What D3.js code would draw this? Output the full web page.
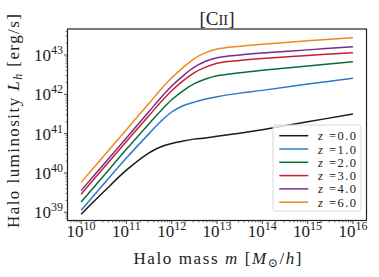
<!DOCTYPE html>
<html>
<head>
<meta charset="utf-8">
<script src="https://cdn.jsdelivr.net/npm/d3@7"></script>
<style>
  body { margin: 0; background: #fff; }
  svg text { font-family: "Liberation Serif", "DejaVu Serif", serif; fill: #222; }
</style>
</head>
<body>
<svg id="chart" width="379" height="277"></svg>
<script>
// log10 of halo mass where values were read
const logMass = [10, 10.5, 11, 11.5, 11.75, 12, 12.25, 12.5, 12.75, 13, 13.5, 14, 15, 16];

// log10 of halo luminosity, one array per redshift
const lumZ0 = [38.95, 39.52, 40.07, 40.51, 40.66, 40.75, 40.81, 40.86, 40.89, 40.93, 41.01, 41.10, 41.30, 41.50];
const lumZ1 = [39.05, 39.72, 40.38, 41.00, 41.30, 41.55, 41.71, 41.80, 41.88, 41.94, 42.03, 42.10, 42.26, 42.41];
const lumZ2 = [39.26, 39.93, 40.60, 41.25, 41.57, 41.86, 42.09, 42.27, 42.39, 42.47, 42.55, 42.61, 42.72, 42.83];
const lumZ3 = [39.46, 40.13, 40.80, 41.46, 41.79, 42.09, 42.34, 42.55, 42.69, 42.79, 42.86, 42.91, 42.99, 43.06];
const lumZ4 = [39.55, 40.22, 40.89, 41.56, 41.90, 42.21, 42.47, 42.69, 42.84, 42.93, 43.00, 43.05, 43.13, 43.21];
const lumZ6 = [39.76, 40.43, 41.10, 41.77, 42.11, 42.42, 42.68, 42.91, 43.06, 43.15, 43.22, 43.27, 43.36, 43.44];

const redshifts = ['0.0', '1.0', '2.0', '3.0', '4.0', '6.0'];
const colors = ['#1a1a1a', '#2f78c4', '#0d6b3a', '#c81e34', '#7a2b8d', '#ee8a1c'];

const xTickExp = [10, 11, 12, 13, 14, 15, 16];
const yTickExp = [39, 40, 41, 42, 43];

const series = [lumZ0, lumZ1, lumZ2, lumZ3, lumZ4, lumZ6].map((arr, i) => ({
  label: redshifts[i],
  color: colors[i],
  values: arr.map((v, j) => ({ m: Math.pow(10, logMass[j]), L: Math.pow(10, v) }))
}));

const svg = d3.select('#chart');

// plot area
const pLeft = 67.5, pRight = 366.5, pTop = 29, pBottom = 220.5;

const x = d3.scaleLog().domain([Math.pow(10, 9.7), Math.pow(10, 16.3)]).range([pLeft, pRight]);
const y = d3.scaleLog().domain([Math.pow(10, 38.79), Math.pow(10, 43.661)]).range([pBottom, pTop]);

// minor ticks
const minorX = [];
for (let e = 9; e <= 16; e++) for (let k = 2; k <= 9; k++) {
  const v = k * Math.pow(10, e);
  if (v >= x.domain()[0] && v <= x.domain()[1]) minorX.push(v);
}
const minorY = [];
for (let e = 38; e <= 43; e++) for (let k = 2; k <= 9; k++) {
  const v = k * Math.pow(10, e);
  if (v >= y.domain()[0] && v <= y.domain()[1]) minorY.push(v);
}

svg.selectAll('.minor-x').data(minorX).join('line')
  .attr('class', 'minor-x')
  .attr('x1', d => x(d)).attr('x2', d => x(d))
  .attr('y1', pBottom).attr('y2', pBottom + 2)
  .attr('stroke', '#222').attr('stroke-width', 0.6);
svg.selectAll('.major-x').data(xTickExp).join('line')
  .attr('class', 'major-x')
  .attr('x1', d => x(Math.pow(10, d))).attr('x2', d => x(Math.pow(10, d)))
  .attr('y1', pBottom).attr('y2', pBottom + 3.5)
  .attr('stroke', '#222').attr('stroke-width', 0.8);
svg.selectAll('.minor-y').data(minorY).join('line')
  .attr('class', 'minor-y')
  .attr('y1', d => y(d)).attr('y2', d => y(d))
  .attr('x1', pLeft).attr('x2', pLeft - 2)
  .attr('stroke', '#222').attr('stroke-width', 0.6);
svg.selectAll('.major-y').data(yTickExp).join('line')
  .attr('class', 'major-y')
  .attr('y1', d => y(Math.pow(10, d))).attr('y2', d => y(Math.pow(10, d)))
  .attr('x1', pLeft).attr('x2', pLeft - 3.5)
  .attr('stroke', '#222').attr('stroke-width', 0.8);

// tick labels
const xl = svg.selectAll('.xlab').data(xTickExp).join('text')
  .attr('class', 'xlab')
  .attr('x', d => x(Math.pow(10, d)))
  .attr('y', 237)
  .attr('text-anchor', 'middle')
  .style('font-size', '17px');
xl.append('tspan').text('10');
xl.append('tspan').attr('dy', -7).style('font-size', '12px').text(d => d);

const yl = svg.selectAll('.ylab').data(yTickExp).join('text')
  .attr('class', 'ylab')
  .attr('x', 63)
  .attr('y', d => y(Math.pow(10, d)) + 6)
  .attr('text-anchor', 'end')
  .style('font-size', '17px');
yl.append('tspan').text('10');
yl.append('tspan').attr('dy', -7).style('font-size', '12px').text(d => d);

// curves
const line = d3.line()
  .x(d => x(d.m))
  .y(d => y(d.L))
  .curve(d3.curveCatmullRom.alpha(0.5));

svg.selectAll('.curve').data(series).join('path')
  .attr('class', 'curve')
  .attr('d', d => line(d.values))
  .attr('fill', 'none')
  .attr('stroke', d => d.color)
  .attr('stroke-width', 1.5);

// frame
svg.append('rect')
  .attr('x', pLeft).attr('y', pTop)
  .attr('width', pRight - pLeft).attr('height', pBottom - pTop)
  .attr('fill', 'none').attr('stroke', '#222').attr('stroke-width', 1.2);

// legend
const legX = 273, legY = 125, rowH = 13.3;
svg.append('rect')
  .attr('x', legX).attr('y', legY).attr('width', 88).attr('height', 86)
  .attr('rx', 2.5)
  .attr('fill', 'rgba(255,255,255,0.8)').attr('stroke', '#d8d8d8').attr('stroke-width', 1);

const leg = svg.selectAll('.leg').data(series).join('g')
  .attr('class', 'leg')
  .attr('transform', (d, i) => `translate(${legX}, ${legY + 10.7 + i * rowH})`);
leg.append('line')
  .attr('x1', 6.3).attr('x2', 35.3)
  .attr('stroke', d => d.color).attr('stroke-width', 1.5);
const legText = leg.append('text')
  .attr('x', 45).attr('y', 4.5)
  .attr('textLength', 38)
  .style('font-size', '12.5px');
legText.append('tspan').style('font-style', 'italic').text('z');
legText.append('tspan').text(d => ' =' + d.label);

// title
const title = svg.append('text')
  .attr('x', 217).attr('y', 25)
  .attr('text-anchor', 'middle')
  .style('font-size', '19px');
title.append('tspan').text('[C');
title.append('tspan').style('font-size', '14.5px').text('II');
title.append('tspan').text(']');

// axis labels
const xt = svg.append('text')
  .attr('x', 217.5).attr('y', 264)
  .attr('text-anchor', 'middle')
  .attr('textLength', 168)
  .style('font-size', '17px');
xt.append('tspan').text('Halo mass ');
xt.append('tspan').style('font-style', 'italic').text('m');
xt.append('tspan').text(' [');
xt.append('tspan').style('font-style', 'italic').text('M');
xt.append('tspan').attr('dy', 3).style('font-size', '12px').text('⊙');
xt.append('tspan').attr('dy', -3).text('/');
xt.append('tspan').style('font-style', 'italic').text('h');
xt.append('tspan').text(']');

const yt = svg.append('text')
  .attr('transform', 'translate(19, 121) rotate(-90)')
  .attr('text-anchor', 'middle')
  .attr('textLength', 214)
  .style('font-size', '17px');
yt.append('tspan').text('Halo luminosity ');
yt.append('tspan').style('font-style', 'italic').text('L');
yt.append('tspan').attr('dy', 3).style('font-size', '12px').style('font-style', 'italic').text('h');
yt.append('tspan').attr('dy', -3).text(' [erg/s]');
</script>
</body>
</html>
